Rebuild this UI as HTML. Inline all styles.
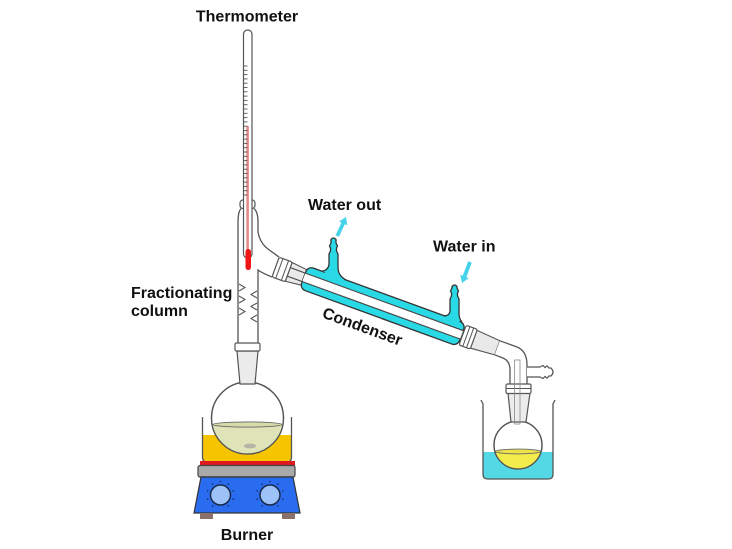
<!DOCTYPE html>
<html>
<head>
<meta charset="utf-8">
<style>
html,body{margin:0;padding:0;background:#fff;}
svg{display:block;}
text{font-family:"Liberation Sans",Arial,sans-serif;font-weight:bold;font-size:16px;fill:#111;}
</style>
</head>
<body>
<svg width="732" height="549" viewBox="0 0 732 549" xmlns="http://www.w3.org/2000/svg">
<rect width="732" height="549" fill="#fff"/>

<!-- ===== Heating bath ===== -->
<path d="M203,435 L291,435 L291,457 Q291,461 287,461 L207,461 Q203,461 203,457 Z" fill="#f6c500"/>
<path d="M202.5,417 L202.5,457 Q202.5,462 207.5,462 L286.5,462 Q291.5,462 291.5,457 L291.5,417" fill="none" stroke="#555" stroke-width="1.3"/>

<!-- ===== Hot plate ===== -->
<rect x="200" y="461" width="95" height="5" fill="#e0191e"/>
<rect x="198" y="465.5" width="97" height="11.5" rx="2" fill="#a9a9a9" stroke="#444" stroke-width="1.2"/>
<path d="M201,477 L293,477 L300,513 L194,513 Z" fill="#2a6cf0" stroke="#333" stroke-width="1.2"/>
<rect x="200" y="513" width="13" height="6" fill="#8b716b"/>
<rect x="282" y="513" width="13" height="6" fill="#8b716b"/>
<g fill="#9cc2f8" stroke="#1a2a4a" stroke-width="1.5">
<circle cx="220.5" cy="495" r="10"/>
<circle cx="270" cy="495" r="10"/>
</g>
<g fill="#1a2a5a">
<circle cx="220.5" cy="481.5" r="0.8"/><circle cx="228.4" cy="484.1" r="0.8"/><circle cx="233.3" cy="490.8" r="0.8"/><circle cx="233.3" cy="499.2" r="0.8"/><circle cx="228.4" cy="505.9" r="0.8"/><circle cx="212.6" cy="505.9" r="0.8"/><circle cx="207.7" cy="499.2" r="0.8"/><circle cx="207.7" cy="490.8" r="0.8"/><circle cx="212.6" cy="484.1" r="0.8"/>
<circle cx="270" cy="481.5" r="0.8"/><circle cx="277.9" cy="484.1" r="0.8"/><circle cx="282.8" cy="490.8" r="0.8"/><circle cx="282.8" cy="499.2" r="0.8"/><circle cx="277.9" cy="505.9" r="0.8"/><circle cx="262.1" cy="505.9" r="0.8"/><circle cx="257.2" cy="499.2" r="0.8"/><circle cx="257.2" cy="490.8" r="0.8"/><circle cx="262.1" cy="484.1" r="0.8"/>
</g>

<!-- ===== Left round-bottom flask ===== -->
<defs>
<clipPath id="flaskL"><circle cx="247.5" cy="418" r="36"/></clipPath>
<clipPath id="flaskR"><circle cx="518" cy="445" r="24"/></clipPath>
</defs>
<circle cx="247.5" cy="418" r="36" fill="#fff" stroke="#555" stroke-width="1.3"/>
<rect x="210" y="424" width="76" height="32" fill="#dfe4b8" clip-path="url(#flaskL)"/>
<ellipse cx="247.5" cy="424.5" rx="34.5" ry="2.6" fill="#d6dca8" stroke="#666" stroke-width="0.9"/>
<circle cx="247.5" cy="418" r="36" fill="none" stroke="#555" stroke-width="1.3"/>
<ellipse cx="250" cy="446" rx="6" ry="2.4" fill="#b3b3a6"/>
<!-- neck -->
<path d="M237,351 L258,351 L255,384 L240,384 Z" fill="#ececec" stroke="#555" stroke-width="1.2"/>
<rect x="235" y="343" width="25" height="8" rx="1.5" fill="#fff" stroke="#555" stroke-width="1.2"/>

<!-- ===== Fractionating column / adapter ===== -->
<rect x="240" y="200" width="15" height="8.5" rx="3" fill="#fff" stroke="#555" stroke-width="1.2"/>
<path d="M241,208.5 Q238,212 238,222 L238,343" fill="none" stroke="#555" stroke-width="1.3"/>
<path d="M254,208.5 Q258,212 258,222 L258,232 Q260,243 268,249 L279.2,257.2" fill="none" stroke="#555" stroke-width="1.3"/>
<path d="M272,277 Q262,273 258,270 L258,343" fill="none" stroke="#555" stroke-width="1.3"/>
<!-- Vigreux indentations -->
<g fill="none" stroke="#555" stroke-width="1.1">
<path d="M239,284 L245,287.5 L239,291"/>
<path d="M239,296 L245,299.5 L239,303"/>
<path d="M239,308 L245,311.5 L239,315"/>
<path d="M257,291 L251,294.5 L257,298"/>
<path d="M257,303 L251,306.5 L257,310"/>
<path d="M257,315 L251,318.5 L257,322"/>
</g>

<!-- ===== Thermometer ===== -->
<rect x="243.5" y="30" width="8.5" height="228" rx="4.2" fill="#fff" stroke="#555" stroke-width="1.2"/>
<rect x="246.3" y="126" width="2.6" height="126" fill="#e58a8a"/>
<rect x="245.5" y="249" width="5.5" height="21" rx="2.7" fill="#f01414"/>
<g stroke="#555" stroke-width="0.9">
<line x1="243.5" y1="66" x2="247.5" y2="66"/><line x1="243.5" y1="70.3" x2="247.5" y2="70.3"/><line x1="243.5" y1="74.6" x2="247.5" y2="74.6"/><line x1="243.5" y1="78.9" x2="247.5" y2="78.9"/><line x1="243.5" y1="83.2" x2="247.5" y2="83.2"/><line x1="243.5" y1="87.5" x2="247.5" y2="87.5"/><line x1="243.5" y1="91.8" x2="247.5" y2="91.8"/><line x1="243.5" y1="96.1" x2="247.5" y2="96.1"/><line x1="243.5" y1="100.4" x2="247.5" y2="100.4"/><line x1="243.5" y1="104.7" x2="247.5" y2="104.7"/><line x1="243.5" y1="109" x2="247.5" y2="109"/><line x1="243.5" y1="113.3" x2="247.5" y2="113.3"/><line x1="243.5" y1="117.6" x2="247.5" y2="117.6"/><line x1="243.5" y1="121.9" x2="247.5" y2="121.9"/><line x1="243.5" y1="126.2" x2="247.5" y2="126.2"/><line x1="243.5" y1="130.5" x2="247.5" y2="130.5"/><line x1="243.5" y1="134.8" x2="247.5" y2="134.8"/><line x1="243.5" y1="139.1" x2="247.5" y2="139.1"/><line x1="243.5" y1="143.4" x2="247.5" y2="143.4"/><line x1="243.5" y1="147.7" x2="247.5" y2="147.7"/><line x1="243.5" y1="152" x2="247.5" y2="152"/><line x1="243.5" y1="156.3" x2="247.5" y2="156.3"/><line x1="243.5" y1="160.6" x2="247.5" y2="160.6"/><line x1="243.5" y1="164.9" x2="247.5" y2="164.9"/><line x1="243.5" y1="169.2" x2="247.5" y2="169.2"/><line x1="243.5" y1="173.5" x2="247.5" y2="173.5"/><line x1="243.5" y1="177.8" x2="247.5" y2="177.8"/><line x1="243.5" y1="182.1" x2="247.5" y2="182.1"/><line x1="243.5" y1="186.4" x2="247.5" y2="186.4"/><line x1="243.5" y1="190.7" x2="247.5" y2="190.7"/><line x1="243.5" y1="195" x2="247.5" y2="195"/>
</g>

<!-- ===== Condenser (rotated) ===== -->
<g transform="translate(300,276) rotate(20)">
  <polygon points="-12,-10 6,-8 6,8 -12,10" fill="#e9e9e9" stroke="#555" stroke-width="1.1"/>
  <rect x="-26" y="-10.5" width="14" height="21" rx="2" fill="#fff" stroke="#555" stroke-width="1.2"/>
  <line x1="-22" y1="-10.5" x2="-22" y2="10.5" stroke="#555" stroke-width="1"/>
  <line x1="-16" y1="-10.5" x2="-16" y2="10.5" stroke="#555" stroke-width="1"/>
  <rect x="4" y="-12" width="168" height="24" rx="6" fill="#2ad9e6" stroke="#333" stroke-width="1.3"/>
  <rect x="4" y="-4.5" width="168" height="9" fill="#fff"/>
  <line x1="-12" y1="-4.5" x2="173" y2="-4.5" stroke="#444" stroke-width="1.1"/>
  <line x1="-12" y1="4.5" x2="173" y2="4.5" stroke="#444" stroke-width="1.1"/>
  <rect x="173" y="-10.5" width="12" height="21" rx="2" fill="#fff" stroke="#555" stroke-width="1.2"/>
  <line x1="177" y1="-10.5" x2="177" y2="10.5" stroke="#555" stroke-width="1"/>
  <line x1="181" y1="-10.5" x2="181" y2="10.5" stroke="#555" stroke-width="1"/>
  <polygon points="185,-9.5 210,-7.5 210,7.5 185,9.5" fill="#e9e9e9" stroke="#555" stroke-width="1.1"/>
  <text x="76" y="31.5" text-anchor="middle">Condenser</text>
</g>

<!-- water out stem -->
<polygon points="325,271.4 344,278.3 344,282.5 325,275.5" fill="#2ad9e6"/>
<path d="M322,271.3 Q329,270 329,263 L329,254 L330.5,251 L330.5,248 L329.5,246 L331,243 L331,239.5 Q333.5,236.5 336,239.5 L336,243 L337.5,246 L336.5,248 L336.5,251 L338,254 L338,267 Q338,276 346,279.9" fill="#2ad9e6" stroke="#333" stroke-width="1.3"/>
<!-- water in stem -->
<polygon points="445.5,315.5 459.5,320.5 459.5,324.5 445.5,319.5" fill="#2ad9e6"/>
<path d="M444,315.8 Q450,316 450,310 L450,299 L451.5,296 L451.5,293 L450.5,291 L452,288 L452,286.5 Q454.5,283.5 457,286.5 L457,288 L458.5,291 L457.5,293 L457.5,296 L459,299 L459,313 Q459,319.5 462,321.5" fill="#2ad9e6" stroke="#333" stroke-width="1.3"/>

<!-- arrows -->
<polygon points="346,217 347.2,225.3 344.8,224.2 339,236.8 335.6,235.2 341.4,222.6 339,221.5" fill="#45d3ea"/>
<polygon points="462,283 468.7,278.1 466.3,277.2 471.8,262.7 468.2,261.3 462.7,275.8 460.3,274.9" fill="#45d3ea"/>

<!-- ===== Receiver adapter ===== -->
<path d="M499.9,340.8 L517,347 Q527,351 527,365 L527,386 L510,386 L510,370 Q510,361 503,358 L494.7,354.8 Z" fill="#fff" stroke="none"/>
<path d="M499.9,340.8 L517,347 Q527,351 527,365 L527,386" fill="none" stroke="#555" stroke-width="1.3"/>
<path d="M494.7,354.8 L503,358 Q510,361 510,370 L510,386" fill="none" stroke="#555" stroke-width="1.3"/>
<path d="M527,367 L540,367 L543,365.5 L545,367.5 L547,365.8 L549,368 L551,368 Q555,372 551,376 L549,376 L547,378.2 L545,376.5 L543,378.5 L540,377 L527,377" fill="#fff" stroke="#555" stroke-width="1.2"/>

<!-- ===== Receiver beaker and flask ===== -->
<path d="M483.5,452 L552.5,452 L552.5,474 Q552.5,478.5 548,478.5 L488,478.5 Q483.5,478.5 483.5,474 Z" fill="#55d8e6"/>
<path d="M481,400 L483,404 L483,474 Q483,479 488,479 L548,479 Q553,479 553,474 L553,404 L555,400" fill="none" stroke="#555" stroke-width="1.3"/>
<circle cx="518" cy="445" r="24" fill="#fff" stroke="#555" stroke-width="1.3"/>
<rect x="493" y="451" width="50" height="20" fill="#f3ec4d" clip-path="url(#flaskR)"/>
<ellipse cx="518" cy="451.5" rx="22.5" ry="2.4" fill="#eee24a" stroke="#666" stroke-width="0.9"/>
<circle cx="518" cy="445" r="24" fill="none" stroke="#555" stroke-width="1.3"/>
<path d="M508,393 L530,393 L526,422 L511,422 Z" fill="#ececec" stroke="#555" stroke-width="1.2"/>
<rect x="506" y="384" width="25" height="9.5" rx="1.5" fill="#fff" stroke="#555" stroke-width="1.2"/>
<line x1="506" y1="388.5" x2="531" y2="388.5" stroke="#555" stroke-width="0.9"/>
<rect x="514.5" y="360" width="5.5" height="64" fill="none" stroke="#888" stroke-width="0.8"/>

<!-- ===== Labels ===== -->
<text x="247" y="21.5" text-anchor="middle">Thermometer</text>
<text x="308" y="210">Water out</text>
<text x="433" y="251.5">Water in</text>
<text x="131" y="298">Fractionating</text>
<text x="131" y="316">column</text>
<text x="247" y="540" text-anchor="middle">Burner</text>
</svg>
</body>
</html>
